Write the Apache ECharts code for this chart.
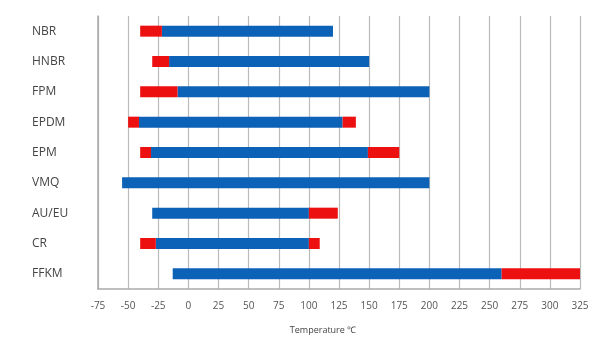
<!DOCTYPE html>
<html>
<head>
<meta charset="utf-8">
<script src="https://cdn.jsdelivr.net/npm/echarts@6/dist/echarts.min.js"></script>
<style>html,body{margin:0;padding:0;background:#fff}#c{width:600px;height:344px}</style>
</head>
<body>
<div id="c"></div>
<script>
// Categories (top to bottom)
const categories = ['NBR','HNBR','FPM','EPDM','EPM','VMQ','AU/EU','CR','FFKM'];
// Red low-temperature extension start (null = none)
const redLowStart = [-40, -30, -40, -50, -40, null, null, -40, null];
// Blue standard range
const blueStart = [-22, -16, -9, -41, -31, -55, -30, -27, -13];
const blueEnd   = [120, 150, 200, 128, 149, 200, 100, 100, 260];
// Red high-temperature extension end (null = none)
const redHighEnd = [null, null, null, 139, 175, null, 124, 109, 325];
// Axis ticks
const xMin = -75, xMax = 325, xStep = 25;

const blueData = categories.map((c, i) => [blueStart[i], blueEnd[i], i]);
const redData = [];
categories.forEach((c, i) => {
  if (redLowStart[i] !== null) redData.push([redLowStart[i], blueStart[i], i]);
  if (redHighEnd[i] !== null) redData.push([blueEnd[i], redHighEnd[i], i]);
});

function makeRender(color) {
  return function (params, api) {
    const s = api.coord([api.value(0), api.value(2)]);
    const e = api.coord([api.value(1), api.value(2)]);
    const h = 11;
    return {
      type: 'rect',
      shape: { x: s[0], y: s[1] - h / 2, width: e[0] - s[0], height: h },
      style: { fill: color }
    };
  };
}

const chart = echarts.init(document.getElementById('c'), null, { renderer: 'canvas' });
chart.setOption({
  animation: false,
  grid: { left: 98, right: 20, top: 16, bottom: 55 },
  xAxis: {
    type: 'value', min: xMin, max: xMax, interval: xStep,
    name: 'Temperature ℃', nameLocation: 'middle', nameGap: 37,
    nameTextStyle: { fontSize: 9, color: '#444', padding: [0, 32, 0, 0], fontFamily: 'Open Sans' },
    axisLine: { show: true, lineStyle: { color: '#aaa', width: 1.5 } },
    axisTick: { show: false },
    axisLabel: { fontSize: 10, color: '#555', margin: 12, fontFamily: 'Open Sans' },
    splitLine: { show: true, lineStyle: { color: '#bbb', width: 1.2 } }
  },
  yAxis: {
    type: 'category', data: categories, inverse: true,
    axisLine: { show: true, onZero: false, lineStyle: { color: '#aaa', width: 1.5 } },
    axisTick: { show: false },
    axisLabel: { align: 'left', margin: 66, fontSize: 12, color: '#444', fontFamily: 'Open Sans' },
    splitLine: { show: false }
  },
  series: [
    { type: 'custom', renderItem: makeRender('#0c62b6'), encode: { x: [0, 1], y: 2 }, data: blueData },
    { type: 'custom', renderItem: makeRender('#ec1010'), encode: { x: [0, 1], y: 2 }, data: redData }
  ]
});
</script>
</body>
</html>
